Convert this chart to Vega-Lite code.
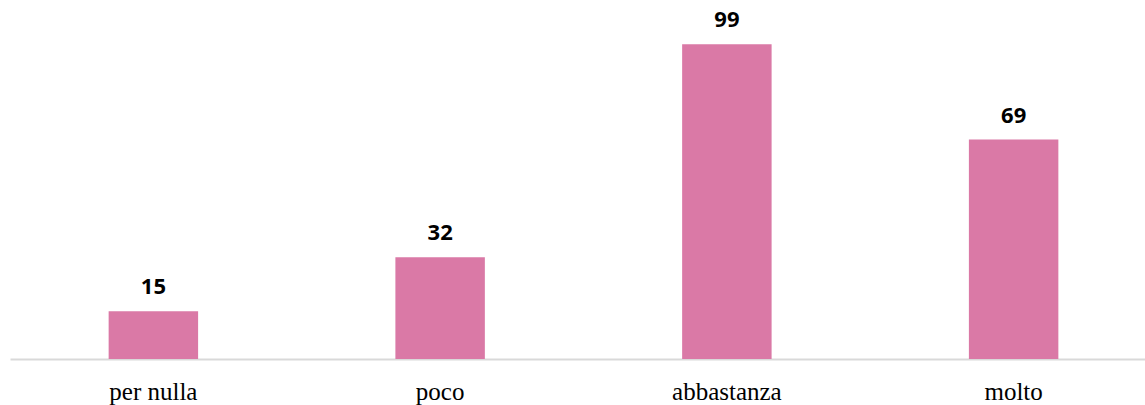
{
  "$schema": "https://vega.github.io/schema/vega-lite/v6.json",
  "autosize": "none",
  "width": 1147,
  "height": 359,
  "padding": {"left": 10, "top": 0, "right": 0, "bottom": 46},
  "background": "white",
  "config": {"view": {"stroke": null}},
  "data": {
    "values": [
      {"categoria": "per nulla", "valore": 15},
      {"categoria": "poco", "valore": 32},
      {"categoria": "abbastanza", "valore": 99},
      {"categoria": "molto", "valore": 69}
    ]
  },
  "encoding": {
    "x": {
      "field": "categoria",
      "type": "nominal",
      "sort": null,
      "scale": {"paddingInner": 0.688, "paddingOuter": 0.344},
      "axis": {
        "title": null,
        "ticks": false,
        "domainColor": "#d9d9d9",
        "domainWidth": 2,
        "labelAngle": 0,
        "labelFont": "Liberation Serif",
        "labelFontSize": 25,
        "labelColor": "#000000",
        "labelBaseline": "alphabetic",
        "labelPadding": 40
      }
    },
    "y": {
      "field": "valore",
      "type": "quantitative",
      "scale": {"domain": [0, 112.9], "nice": false},
      "axis": null
    }
  },
  "layer": [
    {"mark": {"type": "bar", "color": "#da79a6"}},
    {
      "mark": {
        "type": "text",
        "font": "Open Sans",
        "fontWeight": "bold",
        "fontSize": 22,
        "color": "#000000",
        "baseline": "alphabetic",
        "dy": -17
      },
      "encoding": {"text": {"field": "valore", "type": "quantitative"}}
    }
  ]
}
